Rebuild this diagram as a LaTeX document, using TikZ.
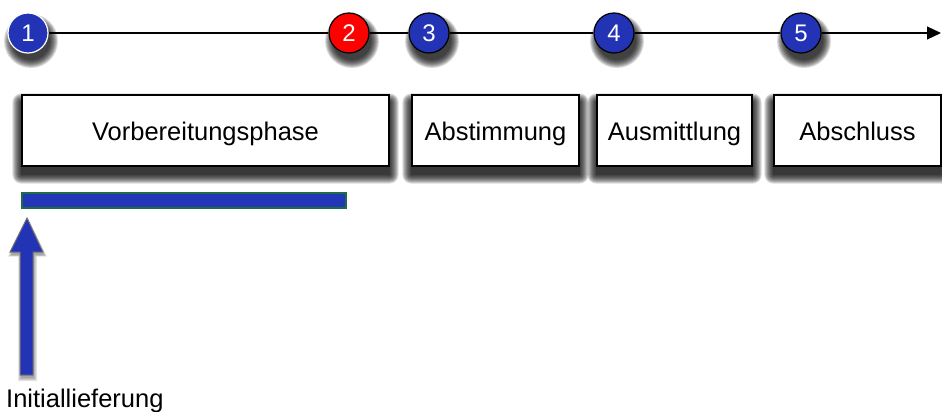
\documentclass[tikz,border=0pt]{standalone}
\usepackage{fontspec}
\setmainfont{Liberation Sans}
\usetikzlibrary{arrows.meta,backgrounds}
\definecolor{cblue}{HTML}{2333B5}
\definecolor{cred}{HTML}{FF0000}
\definecolor{bargreen}{HTML}{1F6B45}
\definecolor{barblue}{HTML}{2336B8}
\begin{document}
\begin{tikzpicture}[x=1pt,y=-1pt,
  ms/.style={circle,draw=black,line width=1.2pt,fill=cblue,minimum size=40pt,inner sep=0pt,
    text=white,font=\fontsize{24}{24}\selectfont},
  phase/.style={draw=black,line width=1.2pt,fill=white,minimum height=71pt,inner sep=0pt,
    font=\fontsize{25.5}{25.5}\selectfont,text height=24pt,text depth=5pt},
  shade/.style={fill=black,fill opacity=0.14}]
\useasboundingbox (0,0) rectangle (942,412);
\coordinate (tip) at (941,33);
\node[ms,draw=white] (m1) at (28,33) {1};
\node[ms,fill=cred] (m2) at (349,33) {2};
\node[ms] (m3) at (429,33) {3};
\node[ms] (m4) at (614,33) {4};
\node[ms] (m5) at (801,33) {5};
\draw[line width=1.2pt] (m1) -- (m2);
\draw[line width=1.2pt] (m2) -- (m3);
\draw[line width=1.2pt] (m3) -- (m4);
\draw[line width=1.2pt] (m4) -- (m5);
\draw[line width=1.2pt,-{Triangle[length=14pt,width=13pt]}] (m5) -- (tip);
\node[phase,minimum width=367pt] (p1) at (205.5,130.5) {Vorbereitungsphase};
\node[phase,minimum width=167pt] (p2) at (495.5,130.5) {Abstimmung};
\node[phase,minimum width=155pt] (p3) at (674.5,130.5) {Ausmittlung};
\node[phase,minimum width=167pt] (p4) at (857.5,130.5) {Abschluss};
\node[draw=bargreen,line width=1.2pt,fill=barblue,minimum width=324pt,minimum height=15pt,inner sep=0pt] (bar) at (184,200.5) {};
\begin{pgfonlayer}{background}
  \foreach \b in {p1,p2,p3,p4}{
    \foreach \e in {0,...,9}{
      \fill[shade,rounded corners=\e pt] ([shift={(-\e,8-\e)}]\b.north west) rectangle ([shift={(\e,8+\e)}]\b.south east);
    }
  }
  \foreach \m in {m1,m2,m3,m4,m5}{
    \foreach \e in {0,...,8}{
      \fill[shade] ([shift={(3,8)}]\m.center) circle ({19+\e});
    }
  }
  \foreach \e in {0,...,3}{
    \fill[black,fill opacity=0.1] (28,221-\e) -- (44+\e,255+0.5*\e) -- (34+\e,255+0.5*\e) -- (34+\e,378+\e) -- (21-\e,378+\e) -- (21-\e,255+0.5*\e) -- (11-\e,255+0.5*\e) -- cycle;
  }
\end{pgfonlayer}
\draw[draw=black!55,line width=1pt,fill=cblue]
  (27,218) -- (43,252) -- (33,252) -- (33,375) -- (20,375) -- (20,252) -- (10,252) -- cycle;
\node[anchor=base west,inner sep=0pt,font=\fontsize{25.5}{25.5}\selectfont] (lbl) at (6,407) {Initiallieferung};
\end{tikzpicture}
\end{document}
